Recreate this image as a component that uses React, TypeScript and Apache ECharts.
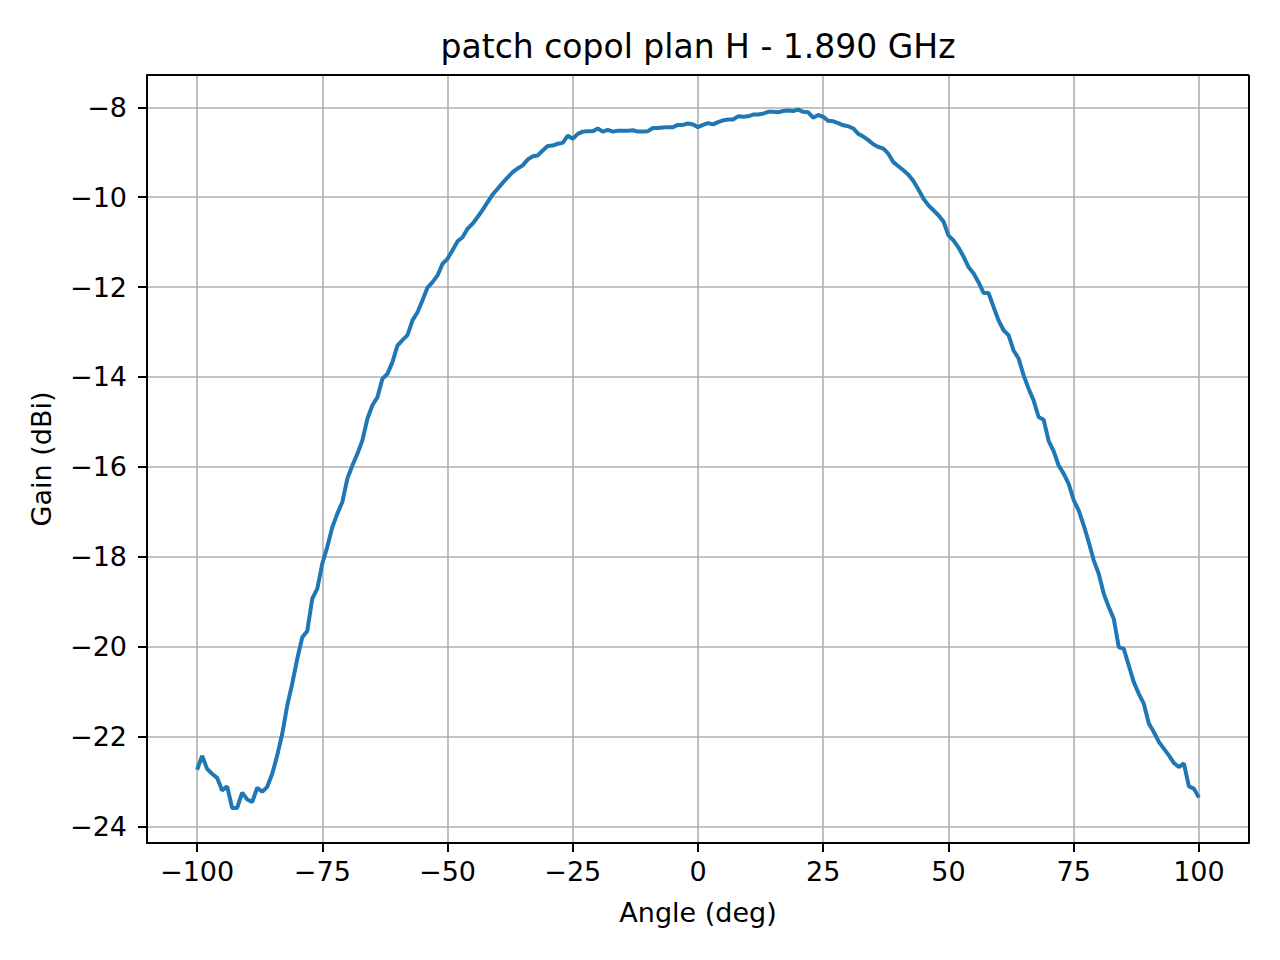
import { useEffect, useRef } from "react";
import * as echarts from "echarts";

// angle sweep, 1 deg steps
const angles = [
  -100, -99, -98, -97, -96, -95, -94, -93, -92, -91, -90, -89, -88, -87, -86, -85, -84, -83, -82, -81,
  -80, -79, -78, -77, -76, -75, -74, -73, -72, -71, -70, -69, -68, -67, -66, -65, -64, -63, -62, -61,
  -60, -59, -58, -57, -56, -55, -54, -53, -52, -51, -50, -49, -48, -47, -46, -45, -44, -43, -42, -41,
  -40, -39, -38, -37, -36, -35, -34, -33, -32, -31, -30, -29, -28, -27, -26, -25, -24, -23, -22, -21,
  -20, -19, -18, -17, -16, -15, -14, -13, -12, -11, -10, -9, -8, -7, -6, -5, -4, -3, -2, -1,
  0, 1, 2, 3, 4, 5, 6, 7, 8, 9, 10, 11, 12, 13, 14, 15, 16, 17, 18, 19,
  20, 21, 22, 23, 24, 25, 26, 27, 28, 29, 30, 31, 32, 33, 34, 35, 36, 37, 38, 39,
  40, 41, 42, 43, 44, 45, 46, 47, 48, 49, 50, 51, 52, 53, 54, 55, 56, 57, 58, 59,
  60, 61, 62, 63, 64, 65, 66, 67, 68, 69, 70, 71, 72, 73, 74, 75, 76, 77, 78, 79,
  80, 81, 82, 83, 84, 85, 86, 87, 88, 89, 90, 91, 92, 93, 94, 95, 96, 97, 98, 99,
  100,
];

// measured gain (dBi)
const gain = [
  -22.74, -22.43, -22.72, -22.83, -22.92, -23.2, -23.11, -23.59, -23.59, -23.25,
  -23.4, -23.46, -23.14, -23.23, -23.12, -22.83, -22.42, -21.94, -21.31, -20.82,
  -20.27, -19.79, -19.65, -18.93, -18.71, -18.15, -17.78, -17.34, -17.04, -16.78,
  -16.26, -15.97, -15.71, -15.41, -14.93, -14.63, -14.45, -14.04, -13.93, -13.67,
  -13.3, -13.18, -13.07, -12.74, -12.56, -12.29, -12.01, -11.89, -11.74, -11.48,
  -11.37, -11.18, -10.98, -10.89, -10.7, -10.59, -10.44, -10.28, -10.11, -9.94,
  -9.81, -9.68, -9.56, -9.44, -9.36, -9.29, -9.16, -9.09, -9.07, -8.96,
  -8.86, -8.85, -8.81, -8.79, -8.63, -8.7, -8.59, -8.54, -8.53, -8.53,
  -8.47, -8.54, -8.5, -8.54, -8.52, -8.52, -8.52, -8.51, -8.54, -8.54,
  -8.53, -8.46, -8.46, -8.45, -8.44, -8.44, -8.39, -8.39, -8.36, -8.38,
  -8.44, -8.39, -8.35, -8.38, -8.33, -8.29, -8.27, -8.27, -8.2, -8.21,
  -8.2, -8.16, -8.16, -8.14, -8.1, -8.1, -8.11, -8.08, -8.07, -8.08,
  -8.05, -8.1, -8.11, -8.23, -8.17, -8.21, -8.3, -8.31, -8.35, -8.4,
  -8.42, -8.47, -8.59, -8.65, -8.73, -8.82, -8.88, -8.92, -9.03, -9.22,
  -9.31, -9.4, -9.5, -9.64, -9.83, -10.03, -10.18, -10.29, -10.4, -10.54,
  -10.85, -10.96, -11.12, -11.32, -11.55, -11.69, -11.89, -12.13, -12.13, -12.44,
  -12.74, -12.96, -13.07, -13.41, -13.59, -13.96, -14.26, -14.52, -14.89, -14.95,
  -15.42, -15.65, -15.97, -16.15, -16.38, -16.74, -16.97, -17.3, -17.67, -18.08,
  -18.38, -18.82, -19.12, -19.38, -20.01, -20.05, -20.42, -20.79, -21.05, -21.27,
  -21.71, -21.9, -22.12, -22.27, -22.42, -22.59, -22.68, -22.6, -23.11, -23.16,
  -23.36,
];

const xTicks = [-100, -75, -50, -25, 0, 25, 50, 75, 100];
const yTicks = [-24, -22, -20, -18, -16, -14, -12, -10, -8];

const FONT = "DejaVu Sans";
const fmt = (v: number) => (v < 0 ? "\u2212" + Math.abs(v) : String(v));

export default function App() {
  const ref = useRef<HTMLDivElement>(null);

  useEffect(() => {
    if (!ref.current) return;
    const chart = echarts.init(ref.current, null, { renderer: "svg" });

    chart.setOption({
      animation: false,
      backgroundColor: "#ffffff",
      // title centred over the plot area, like matplotlib
      graphic: [
        {
          type: "text",
          x: 698,
          y: 46,
          style: {
            text: "patch copol plan H - 1.890 GHz",
            font: `33px "${FONT}"`,
            fill: "#000",
            align: "center",
            verticalAlign: "middle",
          },
        },
      ],
      grid: { left: 147, right: 31, top: 75, bottom: 117 },
      xAxis: {
        type: "value",
        min: -110,
        max: 110,
        name: "Angle (deg)",
        nameLocation: "middle",
        nameGap: 56,
        nameTextStyle: { fontFamily: FONT, fontSize: 27, color: "#000" },
        axisLine: { show: true, onZero: false, lineStyle: { color: "#000", width: 2 } },
        axisTick: { show: true, length: 9, lineStyle: { color: "#000", width: 2 }, customValues: xTicks },
        axisLabel: { customValues: xTicks, formatter: fmt, margin: 15, fontFamily: FONT, fontSize: 27, color: "#000" },
        splitLine: { show: true, lineStyle: { color: "#b0b0b0", width: 1.6 } },
      },
      yAxis: {
        type: "value",
        min: -24.37,
        max: -7.28,
        name: "Gain (dBi)",
        nameLocation: "middle",
        nameGap: 92,
        nameTextStyle: { fontFamily: FONT, fontSize: 27, color: "#000" },
        axisLine: { show: true, onZero: false, lineStyle: { color: "#000", width: 2 } },
        axisTick: { show: true, length: 9, lineStyle: { color: "#000", width: 2 }, customValues: yTicks },
        axisLabel: { customValues: yTicks, formatter: fmt, margin: 20, fontFamily: FONT, fontSize: 27, color: "#000" },
        splitLine: { show: true, lineStyle: { color: "#b0b0b0", width: 1.6 } },
      },
      series: [
        {
          type: "line",
          data: angles.map((a, i) => [a, gain[i]]),
          showSymbol: false,
          lineStyle: { color: "#1f77b4", width: 4 },
          itemStyle: { color: "#1f77b4" },
          z: 3,
        },
        {
          // frame: top and right edges of the axes box
          type: "line",
          data: [],
          markLine: {
            silent: true,
            symbol: "none",
            label: { show: false },
            lineStyle: { color: "#000", width: 2, type: "solid" },
            data: [{ yAxis: -7.28 }, { xAxis: 110 }],
          },
        },
      ],
    });

    return () => chart.dispose();
  }, []);

  return (
    <div style={{ position: "absolute", left: 0, top: 0 }}>
      <div ref={ref} style={{ width: 1280, height: 960 }} />
    </div>
  );
}
